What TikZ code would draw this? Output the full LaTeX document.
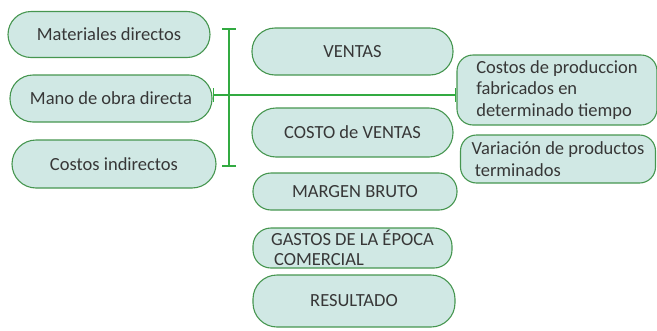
\documentclass[tikz,border=0pt]{standalone}
\usepackage{fontspec}
\setmainfont{Carlito}
\usetikzlibrary{arrows.meta}
\definecolor{cajafondo}{RGB}{208,232,228}
\definecolor{cajaborde}{RGB}{70,150,80}
\definecolor{linea}{RGB}{50,170,65}
\definecolor{texto}{RGB}{55,55,55}

\begin{document}
\begin{tikzpicture}[x=1pt, y=-1pt,
  caja/.style={draw=cajaborde, fill=cajafondo, line width=1.1pt,
    text=texto, font=\fontsize{18.5}{21.5}\selectfont, inner sep=0pt},
  barra/.style={draw=linea, line width=2.2pt, {Bar[width=14pt,line width=1.6pt]}-{Bar[width=14pt,line width=1.6pt]}}]
  \useasboundingbox (0,0) rectangle (657,330);

  % 1. cajas de la izquierda
  \node[caja, minimum width=202pt, minimum height=46pt, rounded corners=23pt] (mat) at (109,34.5) {Materiales directos};
  \node[caja, minimum width=202pt, minimum height=47pt, rounded corners=23pt] (mano) at (111,98.5) {Mano de obra directa};
  \node[caja, minimum width=204pt, minimum height=48pt, rounded corners=24pt] (ind) at (114,164) {Costos indirectos};

  % 2. cajas del centro
  \node[caja, minimum width=201pt, minimum height=47pt, rounded corners=23pt] (ventas) at (352.5,51.5) {VENTAS};
  \node[caja, minimum width=201pt, minimum height=49pt, rounded corners=24pt] (costo) at (352.5,132.5) {COSTO de VENTAS};
  \node[caja, minimum width=204pt, minimum height=37pt, rounded corners=18pt] (margen) at (355,191.5) {MARGEN BRUTO};
  \node[caja, minimum width=199pt, minimum height=40pt, rounded corners=18pt,
    align=left, font=\fontsize{18.5}{20}\selectfont] (gastos) at (352.5,248) {GASTOS DE LA ÉPOCA\\\,COMERCIAL};
  \node[caja, minimum width=202pt, minimum height=52pt, rounded corners=24pt] (result) at (354,301) {RESULTADO};

  % 3. cajas de la derecha
  \node[caja, minimum width=200pt, minimum height=70pt, rounded corners=16pt,
    align=left] (prod) at (557,90) {Costos de produccion\\fabricados en\\determinado tiempo};
  \node[caja, minimum width=195pt, minimum height=48pt, rounded corners=16pt,
    align=left] (var) at (558,159) {Variación de productos\\\,terminados};

  % 4. barras verdes
  \coordinate (arriba) at (229,28);
  \coordinate (abajo) at (229,167);
  \coordinate (salida) at ([yshift=3.5pt]mano.east);
  \draw[barra] (arriba) -- (abajo);
  \draw[barra] (salida) -- (salida -| prod.west);

\end{tikzpicture}
\end{document}
